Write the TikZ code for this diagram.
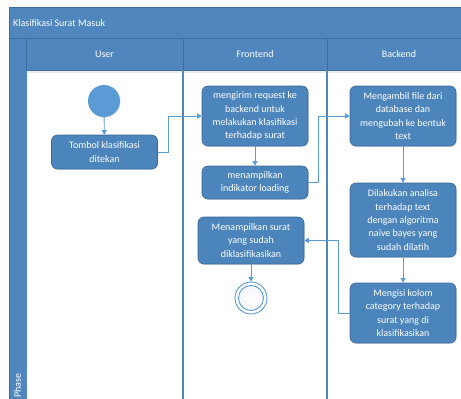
\documentclass[tikz,border=0pt]{standalone}
\usepackage{fontspec}
\setmainfont{Carlito}
\usetikzlibrary{arrows.meta,shadows}
\definecolor{band}{RGB}{79,134,189}
\definecolor{bandline}{RGB}{62,110,160}
\definecolor{act}{RGB}{76,132,188}
\definecolor{actline}{RGB}{58,104,150}
\definecolor{flow}{RGB}{91,155,213}
\definecolor{startc}{RGB}{91,155,213}
\tikzset{
  activity/.style={rectangle, rounded corners=6pt, fill=act, draw=actline, line width=0.6pt,
    text=white, align=center, inner sep=0pt, minimum width=106pt,
    font=\fontsize{10}{13.3}\selectfont,
    drop shadow={shadow xshift=0.8pt, shadow yshift=-1.2pt, opacity=0.18}},
  flow/.style={draw=flow, line width=0.9pt, -{Triangle[width=5pt,length=4.5pt]}},
  lane/.style={draw=bandline, line width=1pt},
  bodylane/.style={draw=band, line width=1.2pt},
  headtext/.style={text=white, font=\fontsize{10}{12}\selectfont}
}
\begin{document}
\begin{tikzpicture}[x=1pt, y=-1pt]
\useasboundingbox (0,0) rectangle (461,399);
\fill[white] (0,0) rectangle (461,399);

% title and header bands
\fill[band] (9,7) rectangle (461,70);
\fill[band] (9,70) rectangle (26,399);
\draw[lane] (9,7) -- (461,7);
\draw[lane] (9,7) -- (9,399);
\draw[lane] (9,38) -- (461,38);
\draw[lane] (26,70) -- (461,70);
\draw[lane] (26,38) -- (26,70);
\draw[bodylane] (26,70) -- (26,399);
\fill[black, opacity=0.08] (26.5,70.5) rectangle (461,72.5);

% lane separators
\draw[lane] (183,38) -- (183,70);
\draw[lane] (327,38) -- (327,70);
\draw[bodylane] (183,70) -- (183,399);
\draw[bodylane] (327,70) -- (327,399);

% labels of the bands
\node[headtext, anchor=west, inner sep=0pt] (title) at (13,23) {Klasifikasi Surat Masuk};
\node[headtext] (huser) at (104.5,54.5) {User};
\node[headtext] (hfront) at (255,54.5) {Frontend};
\node[headtext] (hback) at (399,54.5) {Backend};
\node[headtext, rotate=90, anchor=west, inner sep=1pt] (phase) at (17.5,399) {Phase};

% start node
\node[circle, fill=startc, minimum size=32pt, inner sep=0pt,
  drop shadow={shadow xshift=0.8pt, shadow yshift=-1.2pt, opacity=0.15}] (start) at (104,101) {};

% activities
\node[activity, minimum height=34pt] (tombol) at (104.5,152) {Tombol klasifikasi\\ditekan};
\node[activity, minimum height=60pt] (f1) at (255,116) {mengirim request ke\\backend untuk\\melakukan klasifikasi\\terhadap surat};
\node[activity, minimum height=33pt] (f2) at (255,182.5) {menampilkan\\indikator loading};
\node[activity, minimum height=47pt] (f3) at (251,240.5) {Menampilkan surat\\yang sudah\\diklasifikasikan};
\node[activity, minimum height=60pt] (b1) at (403,116) {Mengambil file dari\\database dan\\mengubah ke bentuk\\text};
\node[activity, minimum height=74pt] (b2) at (403,220) {Dilakukan analisa\\terhadap text\\dengan algoritma\\naive bayes yang\\sudah dilatih};
\node[activity, minimum height=60pt] (b3) at (403,313) {Mengisi kolom\\category terhadap\\surat yang di\\klasifikasikan};

% final node
\node[circle, draw=flow, line width=0.9pt, fill=white, minimum size=32pt, inner sep=0pt] (fin) at (251,298) {};
\node[circle, draw=flow, line width=0.9pt, inner color=white, outer color=blue!4, minimum size=25pt, inner sep=0pt] (fincore) at (fin) {};

% control flow
\draw[flow] (start) -- (tombol);
\draw[flow] (tombol.east) -- ++(11,0) |- (f1.west);
\draw[flow] (f1) -- (f2);
\draw[flow] (f2.east) -- ++(10,0) |- (b1.west);
\draw[flow] (b1) -- (b2);
\draw[flow] (b2) -- (b3);
\draw[flow] (b3.west) -- ++(-11,0) |- (f3.east);
\draw[flow] (f3) -- (fin);
\end{tikzpicture}
\end{document}
